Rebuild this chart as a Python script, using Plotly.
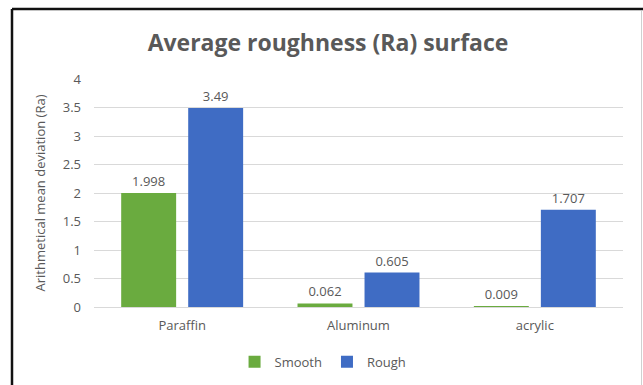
import plotly.graph_objects as go

# Surface roughness measurements (Ra) per material
materials = ["Paraffin", "Aluminum", "acrylic"]
smooth = [1.998, 0.062, 0.009]
rough = [3.49, 0.605, 1.707]
y_ticks = [0, 0.5, 1, 1.5, 2, 2.5, 3, 3.5, 4]
y_tick_text = ["0", "0.5", "1", "1.5", "2", "2.5", "3", "3.5", "4"]

W, H = 643, 385
L, R, T, B = 94, 20, 79, 78
FONT = "Open Sans"
GREY = "#595959"

fig = go.Figure()
fig.add_trace(go.Bar(
    name="Smooth", x=materials, y=smooth,
    marker=dict(color="#6aab3f", line=dict(width=0)),
    text=[f"{v:g}" for v in smooth], textposition="outside",
    textfont=dict(family=FONT, size=13, color=GREY), cliponaxis=False,
))
fig.add_trace(go.Bar(
    name="Rough", x=materials, y=rough,
    marker=dict(color="#3f6cc4", line=dict(width=0)),
    text=[f"{v:g}" for v in rough], textposition="outside",
    textfont=dict(family=FONT, size=13, color=GREY), cliponaxis=False,
))

# frame lines around the chart area (paper coordinates from pixel positions)
pw, ph = W - L - R, H - T - B
def px(x):
    return (x - L) / pw
def py(y):
    return (H - B - y) / ph

fig.add_shape(type="line", xref="paper", yref="paper",
              x0=px(12), x1=px(643), y0=py(9), y1=py(9),
              line=dict(color="#111111", width=2.5))
fig.add_shape(type="line", xref="paper", yref="paper",
              x0=px(12), x1=px(12), y0=py(9), y1=py(385),
              line=dict(color="#111111", width=2.5))
fig.add_shape(type="line", xref="paper", yref="paper",
              x0=px(641.5), x1=px(641.5), y0=py(11), y1=py(385),
              line=dict(color="#d0d0d0", width=1))

fig.update_layout(
    width=W, height=H,
    margin=dict(l=L, r=R, t=T, b=B, autoexpand=False),
    paper_bgcolor="white", plot_bgcolor="white",
    barmode="group", bargap=0.24, bargroupgap=0.18,
    title=dict(text="<b>Average roughness (Ra) surface</b>",
               x=328 / W, xanchor="center", y=1 - 43 / H, yanchor="middle",
               font=dict(family=FONT, size=23, color=GREY)),
    font=dict(family=FONT, color=GREY, size=13),
    xaxis=dict(showgrid=False, showline=True, linecolor="#d9d9d9", linewidth=1,
               ticks="", automargin=False, ticklabelstandoff=6,
               tickfont=dict(family=FONT, size=13, color=GREY)),
    yaxis=dict(range=[0, 4], tickvals=y_ticks, ticktext=y_tick_text,
               showgrid=True, gridcolor="#d9d9d9", gridwidth=1, automargin=False,
               zeroline=False, showline=False, ticks="", ticklabelstandoff=12,
               tickfont=dict(family=FONT, size=13, color=GREY),
               title=dict(text="Arithmetical mean deviation (Ra)", standoff=14,
                          font=dict(family=FONT, size=13, color=GREY))),
    legend=dict(orientation="h", x=0.433, xanchor="center", y=-0.24, yanchor="middle",
                font=dict(family=FONT, size=13, color=GREY),
                itemwidth=30, traceorder="normal"),
    showlegend=True,
)

fig.write_html("out.html")
